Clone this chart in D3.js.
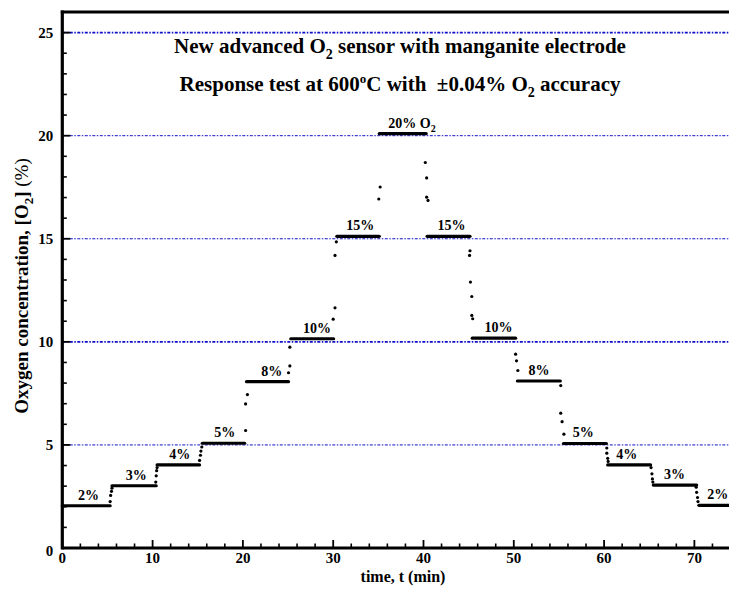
<!DOCTYPE html>
<html><head><meta charset="utf-8">
<script src="https://cdn.jsdelivr.net/npm/d3@7"></script>
<style>body{margin:0;background:#fff}svg{display:block}text{white-space:pre}</style>
</head><body>
<script>
// ---- data ----
const plateauStart = [0, 5.5, 10.5, 15.5, 20.4, 25.3, 30.4, 35.1, 40.4, 45.4, 50.4, 55.5, 60.4, 65.45, 70.5];
const plateauEnd   = [5.3, 10.4, 15.2, 20.2, 25.05, 30.05, 35.1, 40.3, 45.15, 50.2, 55.15, 60.25, 65.15, 70.25, 74];
const plateauLevel = [2.05, 3.02, 4.03, 5.08, 8.07, 10.15, 15.12, 20.1, 15.12, 10.18, 8.1, 5.07, 4.03, 3.05, 2.07];

const transT = [5.3, 5.35, 5.45, 5.5, 10.35, 10.4, 10.45, 10.5, 15.2, 15.3, 15.35, 15.45,
  20.3, 20.3, 20.5, 25.05, 25.2, 25.2, 30.0, 30.2, 30.2, 30.35, 35.05, 35.2,
  40.2, 40.35, 40.35, 40.5, 45.15, 45.1, 45.2, 45.35, 45.35, 45.45,
  50.2, 50.3, 50.45, 55.2, 55.2, 55.35, 55.55, 60.3, 60.3, 60.4, 60.45,
  65.2, 65.3, 65.35, 65.4, 70.2, 70.25, 70.35, 70.4];
const transV = [2.25, 2.55, 2.75, 2.9, 3.2, 3.5, 3.75, 3.9, 4.25, 4.5, 4.7, 4.9,
  5.7, 6.99, 7.44, 8.5, 8.83, 9.74, 11.1, 11.65, 14.19, 14.85, 16.93, 17.51,
  18.7, 17.95, 17.02, 16.86, 14.42, 14.19, 12.9, 12.2, 11.28, 11.12,
  9.4, 9.08, 8.61, 7.88, 6.54, 6.13, 5.52, 4.6, 4.85, 4.35, 4.2,
  3.9, 3.6, 3.35, 3.2, 2.95, 2.7, 2.45, 2.25];

const stepLabels = ["2%", "3%", "4%", "5%", "8%", "10%", "15%", "20%", "15%", "10%", "8%", "5%", "4%", "3%", "2%"];
const labelT = [2.9, 8.2, 13.0, 18.0, 23.2, 28.2, 33.0, 36.1, 43.1, 48.3, 52.8, 57.7, 62.5, 67.8, 72.6];

const xTicks = [0, 10, 20, 30, 40, 50, 60, 70];
const yTicks = [0, 5, 10, 15, 20, 25];
const gridLevels = [5, 10, 15, 20, 25];

// ---- layout ----
const W = 729, H = 590;
const svg = d3.select("body").append("svg").attr("width", W).attr("height", H);
const x = d3.scaleLinear().domain([0, 74]).range([62.3, 730.5]);
const y = d3.scaleLinear().domain([0, 26]).range([548, 12]);
const FONT = "'Liberation Serif','Times New Roman',serif";

// gridlines
svg.append("g").selectAll("line").data(gridLevels).join("line")
  .attr("x1", x(0)).attr("x2", W)
  .attr("y1", d => y(d)).attr("y2", d => y(d))
  .attr("stroke", "#1010c8")
  .attr("stroke-width", d => (d === 10 || d === 25) ? 1.6 : 1)
  .attr("stroke-dasharray", "3,1.5,1.5,1.5");

// axes with inward ticks
const xMinor = d3.range(0, 75, 2).filter(v => v % 10 !== 0);
const yMinor = d3.range(0, 27, 1).filter(v => v % 5 !== 0);
const gx = svg.append("g").attr("transform", `translate(0,${y(0)})`);
gx.selectAll("line.maj").data(xTicks).join("line")
  .attr("x1", d => x(d)).attr("x2", d => x(d)).attr("y1", 0).attr("y2", -8)
  .attr("stroke", "#000").attr("stroke-width", 1.8);
gx.selectAll("line.min").data(xMinor).join("line")
  .attr("x1", d => x(d)).attr("x2", d => x(d)).attr("y1", 0).attr("y2", -4.5)
  .attr("stroke", "#000").attr("stroke-width", 1.6);
gx.selectAll("text").data(xTicks).join("text")
  .attr("x", d => x(d)).attr("y", 15)
  .attr("text-anchor", "middle")
  .attr("font-family", FONT).attr("font-weight", "bold").attr("font-size", 15)
  .text(d => d);

const gy = svg.append("g").attr("transform", `translate(${x(0)},0)`);
gy.selectAll("line.maj").data(yTicks).join("line")
  .attr("y1", d => y(d)).attr("y2", d => y(d)).attr("x1", 0).attr("x2", 8)
  .attr("stroke", "#000").attr("stroke-width", 1.8);
gy.selectAll("line.min").data(yMinor).join("line")
  .attr("y1", d => y(d)).attr("y2", d => y(d)).attr("x1", 0).attr("x2", 4.5)
  .attr("stroke", "#000").attr("stroke-width", 1.6);
gy.selectAll("text").data(yTicks).join("text")
  .attr("x", -9).attr("y", d => d === 0 ? y(d) + 8 : y(d) + 5)
  .attr("text-anchor", "end")
  .attr("font-family", FONT).attr("font-weight", "bold").attr("font-size", 15)
  .text(d => d);

// frame lines
svg.append("line").attr("x1", x(0)).attr("x2", W).attr("y1", y(0)).attr("y2", y(0))
  .attr("stroke", "#000").attr("stroke-width", 3.2);
svg.append("line").attr("x1", x(0)).attr("x2", x(0)).attr("y1", y(0) + 1.5).attr("y2", y(26) - 1.5)
  .attr("stroke", "#000").attr("stroke-width", 3.2);
svg.append("line").attr("x1", x(0) - 1.5).attr("x2", W).attr("y1", y(26)).attr("y2", y(26))
  .attr("stroke", "#000").attr("stroke-width", 3.2);

// plateaus
const plateaus = plateauStart.map((s, i) => ({s, e: plateauEnd[i], v: plateauLevel[i]}));
svg.append("g").selectAll("line").data(plateaus).join("line")
  .attr("x1", d => x(d.s)).attr("x2", d => x(d.e))
  .attr("y1", d => y(d.v)).attr("y2", d => y(d.v))
  .attr("stroke", "#000").attr("stroke-width", 3.2).attr("stroke-linecap", "round");

// transition points
svg.append("g").selectAll("circle").data(transT.map((t, i) => ({t, v: transV[i]}))).join("circle")
  .attr("cx", d => x(d.t)).attr("cy", d => y(d.v)).attr("r", 1.6).attr("fill", "#000");

// step labels
const lg = svg.append("g").attr("font-family", FONT).attr("font-weight", "bold").attr("font-size", 14);
stepLabels.forEach((lab, i) => {
  const t = lg.append("text")
    .attr("x", x(labelT[i])).attr("y", y(plateauLevel[i]) - 6)
    .attr("text-anchor", i === 7 ? "start" : "middle");
  if (i === 7) {
    t.append("tspan").text(lab + " O");
    t.append("tspan").attr("font-size", 10).attr("dy", 4).text("2");
  } else {
    t.text(lab);
  }
});

// titles
const tg = svg.append("g").attr("font-family", FONT).attr("font-weight", "bold").attr("font-size", 21).attr("text-anchor", "middle");
const t1 = tg.append("text").attr("x", 400).attr("y", 52.5);
t1.append("tspan").text("New advanced O");
t1.append("tspan").attr("font-size", 14).attr("dy", 6).text("2");
t1.append("tspan").attr("dy", -6).text(" sensor with manganite electrode");
const t2 = tg.append("text").attr("x", 400).attr("y", 91);
t2.append("tspan").text("Response test at 600");
t2.append("tspan").attr("font-size", 13).attr("dy", -8).text("o");
t2.append("tspan").attr("dy", 8).text("C with  \u00B10.04% O");
t2.append("tspan").attr("font-size", 14).attr("dy", 6).text("2");
t2.append("tspan").attr("dy", -6).text(" accuracy");

// axis titles
svg.append("text").attr("x", 403).attr("y", 582).attr("text-anchor", "middle")
  .attr("font-family", FONT).attr("font-weight", "bold").attr("font-size", 16)
  .text("time, t (min)");
const yt = svg.append("text").attr("transform", "translate(27.5,286) rotate(-90)")
  .attr("text-anchor", "middle")
  .attr("font-family", FONT).attr("font-weight", "bold").attr("font-size", 19);
yt.append("tspan").text("Oxygen concentration, [O");
yt.append("tspan").attr("font-size", 13).attr("dy", 5).text("2");
yt.append("tspan").attr("dy", -5).text("] ");
yt.append("tspan").attr("font-weight", "normal").text("(%)");
</script>
</body></html>
